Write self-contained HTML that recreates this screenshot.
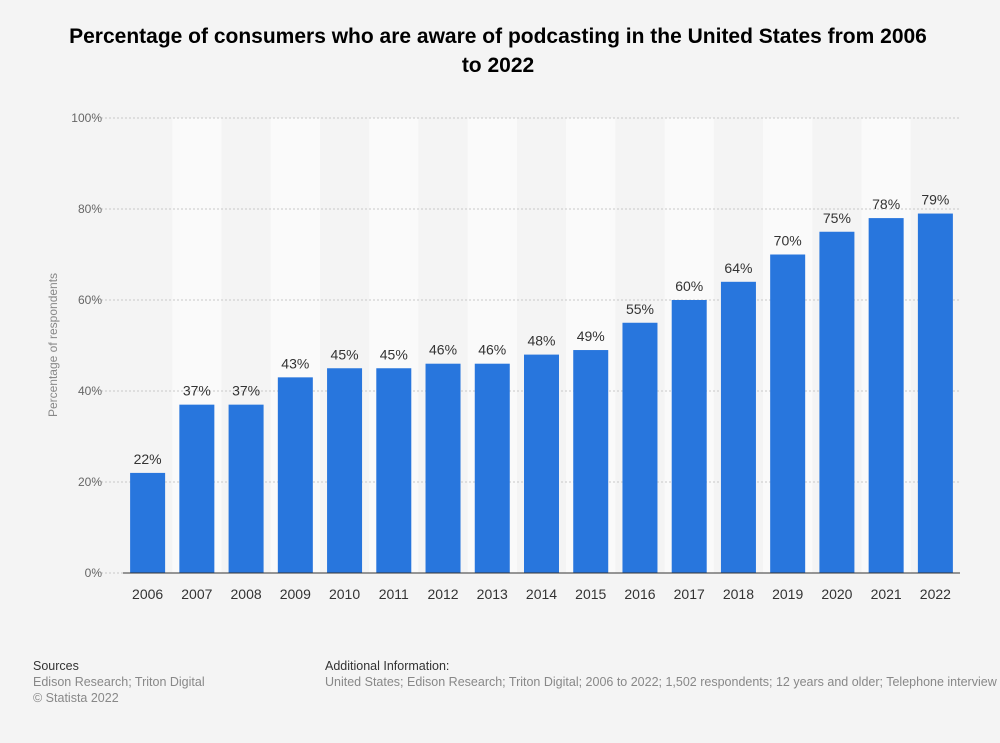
<!DOCTYPE html>
<html><head><meta charset="utf-8">
<style>
body{margin:0;background:#f4f4f4;font-family:"Liberation Sans",Arial,sans-serif;}
#wrap{position:relative;width:1000px;height:743px;background:#f4f4f4;overflow:hidden;}
.title{position:absolute;left:60px;width:876px;top:22px;text-align:center;font-size:21px;font-weight:bold;color:#000;line-height:29px;}
.foot{position:absolute;font-size:12.5px;color:#888;line-height:16px;}
.foot b{color:#333;font-weight:normal;}
</style></head><body>
<div id="wrap">
<div class="title">Percentage of consumers who are aware of podcasting in the United States from 2006 to 2022</div>
<svg id="chart" width="1000" height="743" style="position:absolute;left:0;top:0"></svg>
<div class="foot" style="left:33px;top:658px"><b>Sources</b><br>Edison Research; Triton Digital<br>© Statista 2022</div>
<div class="foot" style="left:325px;top:658px;white-space:nowrap"><b>Additional Information:</b><br>United States; Edison Research; Triton Digital; 2006 to 2022; 1,502 respondents; 12 years and older; Telephone interview</div>
</div>
<script>
const categories=["2006","2007","2008","2009","2010","2011","2012","2013","2014","2015","2016","2017","2018","2019","2020","2021","2022"];
const values=[22,37,37,43,45,45,46,46,48,49,55,60,64,70,75,78,79];
const yTicks=[0,20,40,60,80,100];
const svg=document.getElementById('chart');
const NS='http://www.w3.org/2000/svg';
const L=123,R=960,T=118,B=573;
const cw=(R-L)/categories.length;
const x=i=>L+i*cw;
const y=v=>B-(v/100)*(B-T);
function mk(tag,attrs,txt){const e=document.createElementNS(NS,tag);for(const k in attrs)e.setAttribute(k,attrs[k]);if(txt!==undefined)e.textContent=txt;svg.appendChild(e);return e;}
categories.forEach((c,i)=>{if(i%2===1){const b=mk('rect',{x:x(i),y:T,width:cw,height:B-T,fill:'#fafafa'});

}});
yTicks.forEach(t=>{
const g=mk('line',{x1:L-30,x2:R,y1:y(t),y2:y(t),stroke:'#c8c8c8','stroke-dasharray':'2,2'});


const lb=mk('text',{x:102,y:y(t)+4,'text-anchor':'end','font-size':12,fill:'#666'},t+'%');


});
values.forEach((v,i)=>{
const bw=35,bx=x(i)+(cw-bw)/2;
const r=mk('rect',{x:bx,y:y(v),width:bw,height:B-y(v),fill:'#2876dd'});


const vl=mk('text',{x:x(i)+cw/2,y:y(v)-9,'text-anchor':'middle','font-size':14,fill:'#333'},v+'%');


const xl=mk('text',{x:x(i)+cw/2,y:B+26,'text-anchor':'middle','font-size':14,fill:'#333'},categories[i]);


});
const ax=mk('line',{x1:L,x2:R,y1:B,y2:B,stroke:'#333','stroke-width':1});


const yt=mk('text',{x:0,y:0,transform:'translate(57,345) rotate(-90)','text-anchor':'middle','font-size':12,fill:'#888'},'Percentage of respondents');


</script>
</body></html>
